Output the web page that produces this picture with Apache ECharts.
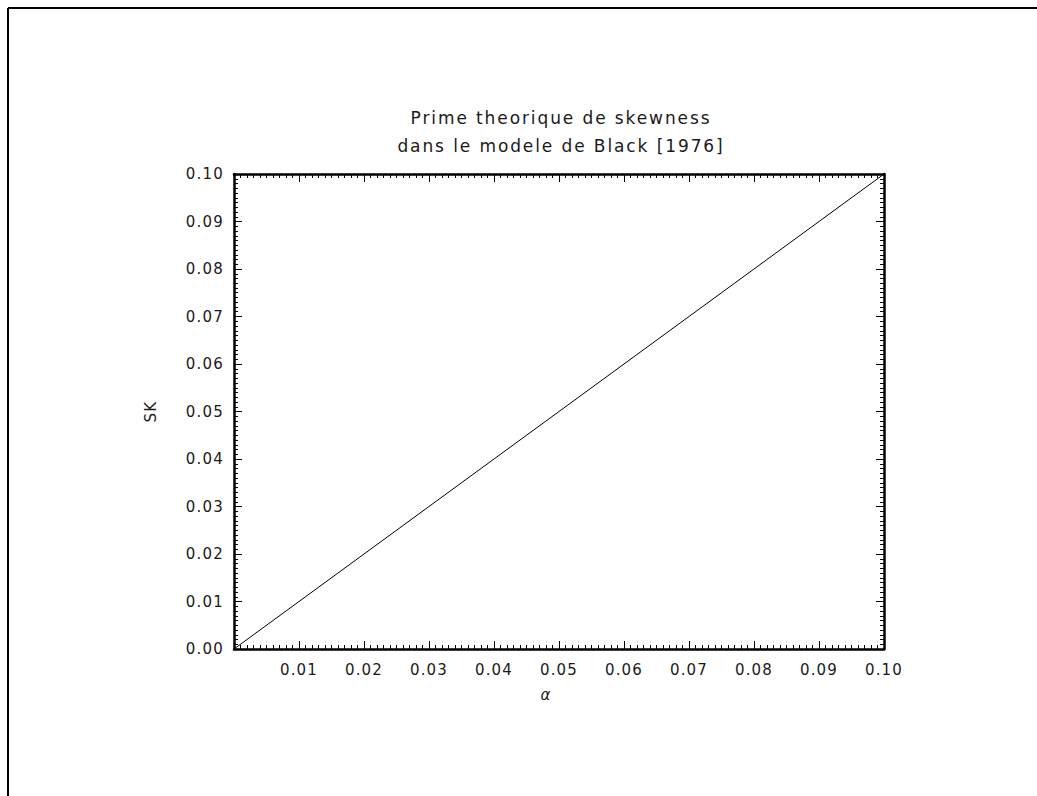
<!DOCTYPE html>
<html>
<head>
<meta charset="utf-8">
<script src="https://cdn.jsdelivr.net/npm/echarts@6/dist/echarts.min.js"></script>
<style>
  html, body { margin: 0; padding: 0; background: #fff; }
  #chart { width: 1037px; height: 796px; }
  /* wide, plotter-like lettering */
  #chart svg text { letter-spacing: 1.2px; }
  #chart svg text[style*="17px"] { letter-spacing: 1.9px; }
</style>
</head>
<body>
<div id="chart"></div>
<script>
// Skewness premium SK as a function of alpha
const alphaValues = [0.000, 0.010, 0.020, 0.030, 0.040, 0.050, 0.060, 0.070, 0.080, 0.090, 0.100];
const skValues    = [0.000, 0.010, 0.020, 0.030, 0.040, 0.050, 0.060, 0.070, 0.080, 0.090, 0.100];
const titleLines  = ['Prime theorique de skewness', 'dans le modele de Black [1976]'];
const xName = 'α';
const yName = 'SK';

const FONT = 'DejaVu Sans';
const INK = '#1a1a1a';
const chart = echarts.init(document.getElementById('chart'), null, { renderer: 'svg' });

const axisLine = { show: true, onZero: false, lineStyle: { color: '#000', width: 2.5 } };
const majorTick = { show: true, inside: true, length: 8, lineStyle: { color: '#000', width: 1 } };
const minorTick = { show: true, splitNumber: 10, length: 4, lineStyle: { color: '#000', width: 1 } };

chart.setOption({
  animation: false,
  backgroundColor: '#fff',
  title: {
    text: titleLines.join('\n'),
    left: 556, top: 99, textAlign: 'center',
    textStyle: { fontFamily: FONT, fontSize: 17, fontWeight: 'normal', color: INK, lineHeight: 28 }
  },
  grid: { left: 234, right: 153, top: 174, bottom: 147 },
  xAxis: [
    {
      type: 'value', min: 0, max: 0.1, interval: 0.01, position: 'bottom',
      axisLine, axisTick: majorTick, minorTick,
      splitLine: { show: false },
      axisLabel: {
        color: INK, fontFamily: FONT, fontSize: 15, margin: 13,
        formatter: v => v === 0 ? '' : v.toFixed(2)
      },
      name: xName, nameLocation: 'middle', nameGap: 38,
      nameTextStyle: { color: INK, fontFamily: FONT, fontSize: 15, fontStyle: 'italic', padding: [0, 26, 0, 0] }
    },
    {
      type: 'value', min: 0, max: 0.1, interval: 0.01, position: 'top',
      axisLine, axisTick: majorTick, minorTick,
      splitLine: { show: false }, axisLabel: { show: false }
    }
  ],
  yAxis: [
    {
      type: 'value', min: 0, max: 0.1, interval: 0.01, position: 'left',
      axisLine, axisTick: majorTick, minorTick,
      splitLine: { show: false },
      axisLabel: {
        color: INK, fontFamily: FONT, fontSize: 15, margin: 10,
        formatter: v => v.toFixed(2)
      },
      name: yName, nameLocation: 'middle', nameGap: 76, nameRotate: 90,
      nameTextStyle: { color: INK, fontFamily: FONT, fontSize: 15 }
    },
    {
      type: 'value', min: 0, max: 0.1, interval: 0.01, position: 'right',
      axisLine, axisTick: majorTick, minorTick,
      splitLine: { show: false }, axisLabel: { show: false }
    }
  ],
  series: [{
    type: 'line',
    data: alphaValues.map((a, i) => [a, skValues[i]]),
    showSymbol: false,
    lineStyle: { color: '#000', width: 1 },
    silent: true
  }],
  graphic: [
    { type: 'line', shape: { x1: 8, y1: 8, x2: 1037, y2: 8 }, style: { stroke: '#000', lineWidth: 2 } },
    { type: 'line', shape: { x1: 8, y1: 8, x2: 8, y2: 796 }, style: { stroke: '#000', lineWidth: 2 } }
  ]
});
</script>
</body>
</html>
